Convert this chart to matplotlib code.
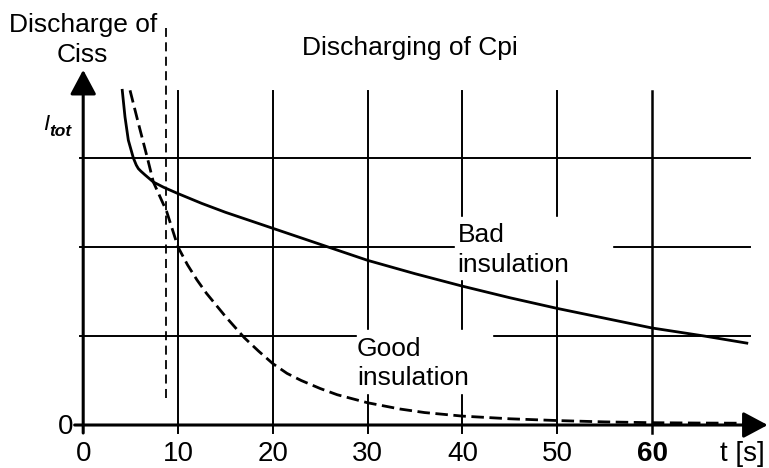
import matplotlib.pyplot as plt
from matplotlib.patches import Rectangle

plt.rcParams['font.family'] = ['Liberation Sans', 'DejaVu Sans']

# current curves (t in s, current in grid units)
bad_t = [4.12, 4.41, 4.76, 5.29, 5.6, 5.82, 6.1, 6.52, 7.40, 8.5, 10.0, 12.5, 15, 17.5, 20,
         22.5, 25, 27.5, 30, 35, 40, 45, 50, 55, 60, 65.5, 70]
bad_i = [3.76, 3.46, 3.20, 3.00, 2.92, 2.88, 2.85, 2.81, 2.73, 2.67, 2.60, 2.49, 2.39, 2.30,
         2.21, 2.12, 2.03, 1.94, 1.85, 1.70, 1.56, 1.43, 1.31, 1.20, 1.09, 1.00, 0.92]

good_t = [4.94, 5.82, 6.77, 7.40, 8.8, 10.0, 11, 12, 13, 14, 15, 16, 17, 18.5, 20, 21.5,
          23, 25, 26.8, 30, 33.4, 36, 40, 45, 50, 55, 60, 65, 70]
good_i = [3.76, 3.39, 3.00, 2.73, 2.40, 2.00, 1.80, 1.63, 1.48, 1.35, 1.22, 1.10, 0.98,
          0.83, 0.69, 0.58, 0.50, 0.41, 0.34, 0.25, 0.18, 0.14, 0.10, 0.07, 0.05, 0.035,
          0.026, 0.022, 0.02]

grid_t = [10, 20, 30, 40, 50, 60]
grid_i = [1, 2, 3]
tick_labels = ['0', '10', '20', '30', '40', '50', '60']
tick_pos = [0, 10, 20, 30, 40, 50, 60]
ciss_t = 8.75

fig = plt.figure(figsize=(7.69, 4.68), dpi=100)
ax = fig.add_axes([0, 0, 1, 1])
ax.set_xlim(-8.776, 72.34)
ax.set_ylim(-0.483, 4.775)
ax.axis('off')

# grid
for t in grid_t:
    ax.plot([t, t], [-0.09, 3.75], color='k', lw=1.8 if t == 60 else 1.4, zorder=1)
for i in grid_i:
    ax.plot([-0.35, 70.3], [i, i], color='k', lw=1.4, zorder=1)

# white boxes behind the labels
ax.add_patch(Rectangle((39.2, 1.64), 16.6, 0.70, color='white', zorder=2))
ax.add_patch(Rectangle((28.9, 0.36), 14.2, 0.71, color='white', zorder=2))

# curves
ax.plot(bad_t, bad_i, color='k', lw=2.0, zorder=3, solid_joinstyle='round')
ax.plot(good_t, good_i, color='k', lw=2.0, dashes=(4.5, 2), zorder=3)
ax.plot([ciss_t, ciss_t], [0.3, 4.46], color='k', lw=1.3, dashes=(5, 3), zorder=3)

# axes with arrows
arr = dict(arrowstyle='-|>,head_length=0.75,head_width=0.4', lw=2.2, color='k',
           mutation_scale=20, shrinkA=0, shrinkB=0)
ax.annotate('', xy=(72.2, 0), xytext=(-0.9, 0), arrowprops=arr, zorder=4)
ax.annotate('', xy=(0, 3.99), xytext=(0, -0.09), arrowprops=arr, zorder=4)

fs = 19
for p, lab in zip(tick_pos, tick_labels):
    ax.text(p, -0.404, lab, ha='center', va='baseline', fontsize=20,
            fontweight='bold' if lab == '60' else 'normal')
ax.text(67.17, -0.404, 't [s]', ha='left', va='baseline', fontsize=20)
ax.text(-1.0, -0.096, '0', ha='right', va='baseline', fontsize=20)

ax.text(-4.24, 3.31, 'I', fontsize=16, fontstyle='italic', ha='left', va='baseline')
ax.text(-3.55, 3.25, 'tot', fontsize=12.5, fontstyle='italic', fontweight='bold',
        ha='left', va='baseline')

ax.text(-0.05, 4.416, 'Discharge of', ha='center', va='baseline', fontsize=fs)
ax.text(-0.05, 4.079, 'Ciss', ha='center', va='baseline', fontsize=fs)
ax.text(34.47, 4.152, 'Discharging of Cpi', ha='center', va='baseline', fontsize=fs)
ax.text(39.5, 2.056, 'Bad', ha='left', va='baseline', fontsize=fs, zorder=5)
ax.text(39.45, 1.719, 'insulation', ha='left', va='baseline', fontsize=fs, zorder=5)
ax.text(28.88, 0.775, 'Good', ha='left', va='baseline', fontsize=fs, zorder=5)
ax.text(28.88, 0.449, 'insulation', ha='left', va='baseline', fontsize=fs, zorder=5)

fig.savefig('out.png', dpi=100)
